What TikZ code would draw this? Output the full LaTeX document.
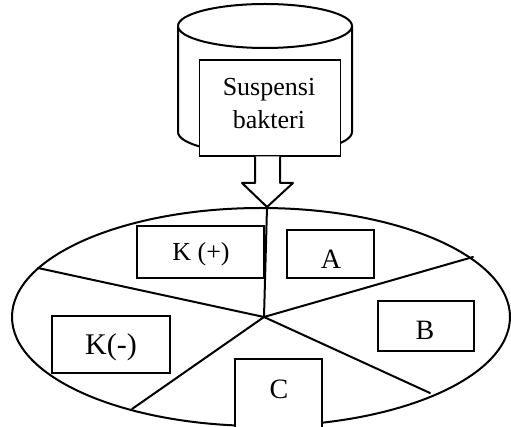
\documentclass[tikz,border=0pt]{standalone}
\usepackage{fontspec}
\setmainfont{Liberation Serif}
\begin{document}
\begin{tikzpicture}[x=1pt,y=1pt,
  thickline/.style={line width=2pt, line join=round},
  labelbox/.style={draw, line width=1.2pt, fill=white, inner sep=0pt},
  txt/.style={inner sep=0pt, anchor=base},
  spoke/.style={line width=2pt, line cap=round}]
\useasboundingbox (0,0) rectangle (511,-427);
\begin{scope}
\clip (0,0) rectangle (511,-427);
% cylinder
\draw[thickline, fill=white] (178,-26) -- (178,-132)
  arc[start angle=180, end angle=360, x radius=87, y radius=22] -- (352,-26);
\draw[thickline, fill=white] (265,-26) ellipse [x radius=87, y radius=22];
% box on cylinder
\node[labelbox, minimum width=141pt, minimum height=96pt] (susp) at (270,-108) {};
\node[txt, font=\fontsize{26}{30}\selectfont] (susp1) at (269,-96) {Suspensi};
\node[txt, font=\fontsize{26}{30}\selectfont] (susp2) at (269,-129) {bakteri};
% hollow arrow
\coordinate (tip) at (267,-207);
\draw[thickline, fill=white] (255,-156.5) -- (255,-183) -- (242,-183) -- (tip)
  -- (293,-183) -- (280,-183) -- (280,-156.5);
% plate
\draw[thickline] (261,-317) ellipse [x radius=249, y radius=109];
\coordinate (ctr) at (264,-317);
\coordinate (pR) at (473,-257);
\coordinate (pL) at (38,-268);
\coordinate (pBL) at (132,-409);
\coordinate (pBR) at (430,-393);
\draw[spoke] (tip) -- (ctr);
\draw[spoke] (ctr) -- (pR);
\draw[spoke] (ctr) -- (pL);
\draw[spoke] (ctr) -- (pBL);
\draw[spoke] (ctr) -- (pBR);
% label boxes
\node[labelbox, minimum width=127pt, minimum height=52pt] (bKp) at (200.5,-252) {};
\node[txt, font=\fontsize{26}{30}\selectfont] (tKp) at (201,-261) {K (+)};
\node[labelbox, minimum width=87pt, minimum height=48pt] (bA) at (330.5,-254) {};
\node[txt, font=\fontsize{28}{30}\selectfont] (tA) at (331,-269) {A};
\node[labelbox, minimum width=96pt, minimum height=50pt] (bB) at (426,-326) {};
\node[txt, font=\fontsize{28}{30}\selectfont] (tB) at (425,-339) {B};
\node[labelbox, minimum width=118pt, minimum height=57pt] (bKm) at (111,-344.5) {};
\node[txt, font=\fontsize{30}{32}\selectfont] (tKm) at (111,-355) {K(-)};
\node[labelbox, minimum width=87pt, minimum height=81pt] (bC) at (278.5,-399.5) {};
\node[txt, font=\fontsize{28}{30}\selectfont] (tC) at (279,-398) {C};
\end{scope}
\end{tikzpicture}
\end{document}
